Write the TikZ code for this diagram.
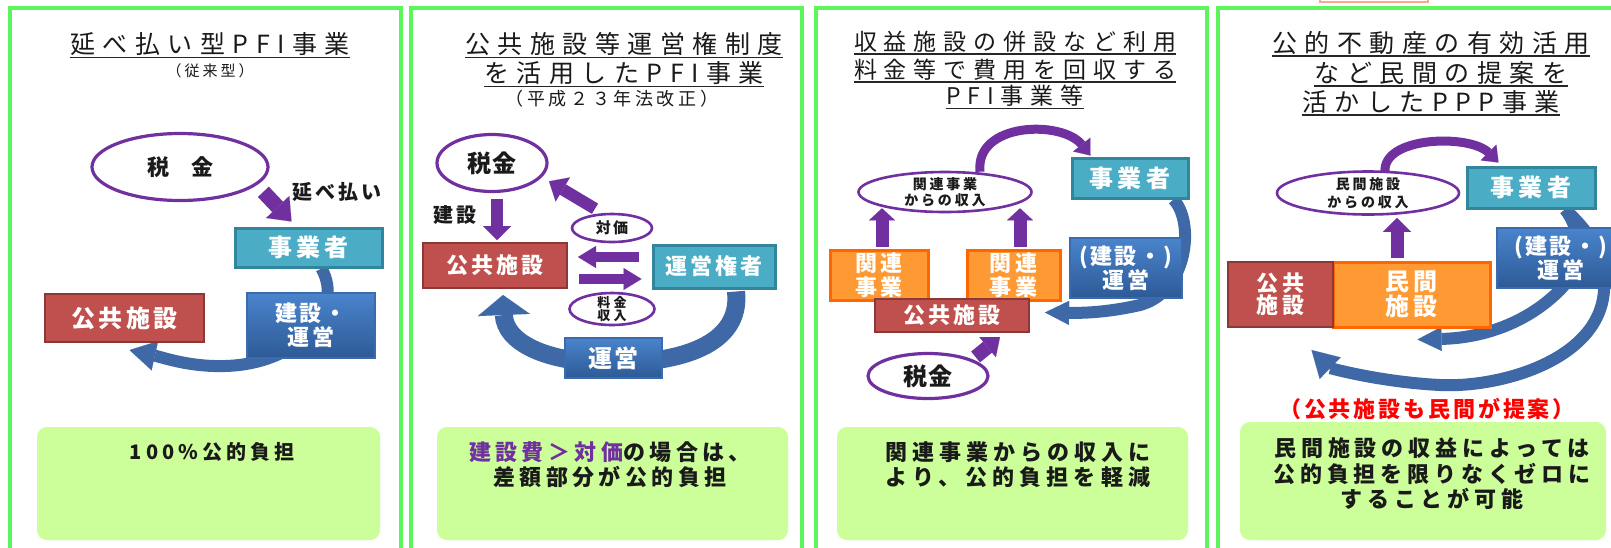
\documentclass[tikz,border=0pt]{standalone}
\usepackage{fontspec}
\setmainfont{Noto Sans CJK JP}
\usetikzlibrary{shapes.geometric,arrows.meta,calc}
\definecolor{frameG}{HTML}{5CF55C}
\definecolor{limeF}{HTML}{CCFF99}
\definecolor{purp}{HTML}{7030A0}
\definecolor{tealF}{HTML}{4BACC6}
\definecolor{tealE}{HTML}{31859C}
\definecolor{redF}{HTML}{C0504D}
\definecolor{redE}{HTML}{8C3836}
\definecolor{orgF}{HTML}{FF9933}
\definecolor{orgE}{HTML}{FF6600}
\definecolor{bluT}{HTML}{4A84CC}
\definecolor{bluB}{HTML}{2D5A96}
\definecolor{bluE}{HTML}{3A6BAE}
\definecolor{arrB}{HTML}{3E69A6}
\definecolor{pinkE}{HTML}{FFA58C}
\definecolor{inkC}{HTML}{1A1A1A}
\newcommand\jpf[3]{\bfseries\fontsize{#1}{#2}\selectfont\addfontfeature{LetterSpace=#3}}
\newcommand\jpr[3]{\fontsize{#1}{#2}\selectfont\addfontfeature{LetterSpace=#3}}
\pgfdeclarelayer{bg}
\pgfsetlayers{bg,main}
\begin{document}
\begin{tikzpicture}[x=0.5pt,y=-0.5pt,
 frame/.style={draw=frameG,line width=2pt},
 limebox/.style={fill=limeF,rounded corners=5pt},
 ttl/.style={anchor=base,inner sep=0pt,text=inkC,font=\jpr{12.5pt}{12.5pt}{30}},
 ttlS/.style={anchor=base,inner sep=0pt,text=inkC,font=\jpr{11.5pt}{11.5pt}{30}},
 uline/.style={draw=black!85,line width=0.7pt},
 txt/.style={inner sep=0pt,align=center,text=inkC},
 ell/.style={ellipse,draw=purp,line width=1.6pt,fill=white,inner sep=0pt},
 boxbase/.style={rectangle,inner sep=0pt,align=center,text=white},
 tealbox/.style={boxbase,fill=tealF,draw=tealE,line width=1.5pt},
 redbox/.style={boxbase,fill=redF,draw=redE,line width=1pt},
 orgbox/.style={boxbase,fill=orgF,draw=orgE,line width=1.5pt},
 blubox/.style={boxbase,top color=bluT,bottom color=bluB,draw=bluE,line width=0.6pt},
 purpA/.style n args={3}{draw=purp,line width=#1,-{Triangle[width=#2,length=#3,line width=0.01pt]}},
 bluA/.style n args={3}{draw=arrB,line width=#1,-{Triangle[width=#2,length=#3,line width=0.01pt]}},
]
\useasboundingbox (0,0) rectangle (1611,547);
\begin{pgfonlayer}{bg}
\fill[white] (0,0) rectangle (1611,547);
\draw[frame] (10,8) rectangle (401,600);
\draw[frame] (411,8) rectangle (802,600);
\draw[frame] (816,8) rectangle (1207,600);
\draw[frame] (1218,8) rectangle (1640,600);
\fill[limebox] (37,427) rectangle (380,540);
\fill[limebox] (437,427) rectangle (788,540);
\fill[limebox] (837,427) rectangle (1188,540);
\fill[limebox] (1240,422) rectangle (1606,540);
\draw[draw=pinkE,fill=white,line width=1pt] (1320,-20) rectangle (1428,1.5);
\end{pgfonlayer}

% ---------------- Panel 1
\node[ttl] (t1) at (210,53) {延べ払い型PFI事業};
\draw[uline] ($(t1.base west)+(0,4.5)$) -- ($(t1.base east)+(0,4.5)$);
\node[anchor=base,inner sep=0pt,text=inkC,font=\jpr{7.5pt}{7.5pt}{20}] (s1) at (210,76) {（従来型）};
\node[ell,minimum width=88pt,minimum height=33.5pt] (tax1) at (180,167) {};
\node[txt,font=\jpf{11pt}{11pt}{0}] (tax1t) at (tax1) {税　金};
\node[txt,font=\jpf{10pt}{10pt}{15}] (lb1) at (337,192) {延べ払い};
\node[tealbox,minimum width=73.5pt,minimum height=19.5pt,font=\jpf{12pt}{12pt}{17}] (biz1) at (308.5,247.5) {事業者};
\node[redbox,minimum width=79.5pt,minimum height=24pt,font=\jpf{12pt}{12pt}{15}] (pub1) at (124.5,318) {公共施設};
\node[blubox,minimum width=64pt,minimum height=32.5pt,font=\jpf{11pt}{12pt}{10}] (ops1) at (311,325.5) {建設・\\運営};
\node[txt,font=\jpf{10pt}{10pt}{20}] (g1) at (212,452) {100\%公的負担};
\draw[purpA={7.5pt}{16pt}{10pt}] ($(tax1.south east)+(20,0)$) -- ($(biz1.north west)+(58,-5)$);
\begin{pgfonlayer}{bg}
\draw[bluA={6pt}{15pt}{13pt}] ($(biz1.south)+(13,0)$) .. controls (345,310) and (300,364) .. (225,366) .. controls (190,367) and (165,358) .. ($(pub1.south)+(5,7)$);
\end{pgfonlayer}

% ---------------- Panel 2
\node[ttl] (t2a) at (624,53) {公共施設等運営権制度};
\node[ttl] (t2b) at (624,82) {を活用したPFI事業};
\draw[uline] ($(t2a.base west)+(0,4.5)$) -- ($(t2a.base east)+(0,4.5)$);
\draw[uline] ($(t2b.base west)+(0,4.5)$) -- ($(t2b.base east)+(0,4.5)$);
\node[anchor=base,inner sep=0pt,text=inkC,font=\jpr{9pt}{9pt}{20}] (s2) at (612,105) {（平成２３年法改正）};
\node[ell,minimum width=55pt,minimum height=28.5pt] (tax2) at (492,163) {};
\node[txt,font=\jpf{12pt}{12pt}{8}] (tax2t) at (tax2) {税金};
\node[txt,font=\jpf{10pt}{10pt}{15}] (lb2) at (455,215) {建設};
\node[redbox,minimum width=72pt,minimum height=22.5pt,font=\jpf{11pt}{11pt}{14}] (pub2) at (495,265.5) {公共施設};
\node[tealbox,minimum width=61pt,minimum height=21.5pt,font=\jpf{11pt}{11pt}{14}] (own2) at (714,266.5) {運営権者};
\node[ell,line width=1.3pt,minimum width=40pt,minimum height=14pt] (price2) at (612,228) {};
\node[txt,font=\jpf{7.5pt}{7.5pt}{15}] (price2t) at (price2) {対価};
\node[ell,line width=1.3pt,minimum width=42.5pt,minimum height=16pt] (fee2) at (612,309) {};
\node[txt,font=\jpf{6.5pt}{6.8pt}{25}] (fee2t) at (fee2) {料金\\収入};
\node[blubox,minimum width=48.5pt,minimum height=20pt,font=\jpf{12pt}{12pt}{11}] (op2) at (613.5,358) {運営};
\node[txt,font=\jpf{11pt}{12.5pt}{20}] (g2) at (610,464.5) {{\color{purp}建設費＞対価}の場合は、\\差額部分が公的負担};
\draw[purpA={6pt}{14pt}{7pt}] ($(tax2.south)+(5,6)$) -- ($(pub2.north)+(2,-2)$);
\draw[purpA={6pt}{14pt}{8pt}] ($(price2.north)+(-17,-4)$) -- ($(tax2.south east)+(17,-3)$);
\draw[purpA={5pt}{11pt}{9pt}] ($(own2.west)+(-13,-9.5)$) -- ($(pub2.east)+(10,-8.5)$);
\draw[purpA={5pt}{11pt}{9pt}] ($(pub2.east)+(11,13.5)$) -- ($(own2.west)+(-10,12.5)$);
\begin{pgfonlayer}{bg}
\draw[bluA={9pt}{26pt}{10pt}] ($(own2.south)+(22,2)$) .. controls (742,345) and (680,363) .. (613,363) .. controls (545,363) and (505,342) .. ($(pub2.south)+(8,6)$);
\end{pgfonlayer}

% ---------------- Panel 3
\node[ttlS] (t3a) at (1015,50) {収益施設の併設など利用};
\node[ttlS] (t3b) at (1015,78) {料金等で費用を回収する};
\node[ttlS] (t3c) at (1015,104.5) {PFI事業等};
\draw[uline] ($(t3a.base west)+(0,4)$) -- ($(t3a.base east)+(0,4)$);
\draw[uline] ($(t3b.base west)+(0,4)$) -- ($(t3b.base east)+(0,4)$);
\draw[uline] ($(t3c.base west)+(0,4)$) -- ($(t3c.base east)+(0,4)$);
\node[tealbox,minimum width=58pt,minimum height=20pt,font=\jpf{12pt}{12pt}{17}] (biz3) at (1130,178) {事業者};
\node[ell,line width=1.3pt,minimum width=86.5pt,minimum height=20pt] (inc3) at (945,192) {};
\node[txt,font=\jpf{7pt}{8.3pt}{20}] (inc3t) at (inc3) {関連事業\\からの収入};
\node[orgbox,minimum width=49pt,minimum height=25pt,font=\jpf{11pt}{12pt}{14}] (rel3a) at (879,275) {関連\\事業};
\node[orgbox,minimum width=46.5pt,minimum height=25pt,font=\jpf{11pt}{12pt}{14}] (rel3b) at (1013.5,275) {関連\\事業};
\node[blubox,minimum width=56pt,minimum height=30pt,font=\jpf{11pt}{12pt}{10}] (ops3) at (1126,268) {(建設・)\\運営};
\node[redbox,minimum width=77pt,minimum height=16.5pt,font=\jpf{11pt}{11pt}{14}] (pub3) at (952,315.5) {公共施設};
\node[ell,minimum width=60pt,minimum height=22.5pt] (tax3) at (928,376) {};
\node[txt,font=\jpf{12pt}{12pt}{8}] (tax3t) at (tax3) {税金};
\node[txt,font=\jpf{11pt}{12.5pt}{23}] (g3) at (1018,464.5) {関連事業からの収入に\\より、公的負担を軽減};
\draw[purpA={4.5pt}{11pt}{7pt}] ($(inc3.north)+(35,1)$) .. controls (975,122) and (1062,120) .. ($(biz3.north west)+(20,-1)$);
\draw[purpA={6.5pt}{13pt}{6pt}] ($(rel3a.north)+(3,-2)$) -- ($(inc3.south)+(-63,-5)$);
\draw[purpA={6.5pt}{13pt}{6pt}] ($(rel3b.north)+(6.5,-2)$) -- ($(inc3.south)+(75,-5)$);
\draw[purpA={7pt}{13pt}{8pt}] ($(tax3.north east)+(4,-2)$) -- ($(pub3.south)+(48,4)$);
\begin{pgfonlayer}{bg}
\draw[bluA={6pt}{12pt}{12pt}] ($(biz3.south east)+(-16,0)$) .. controls (1195,222) and (1188,292) .. (1140,305) .. controls (1105,313) and (1080,313) .. ($(pub3.east)+(15,-3)$);
\end{pgfonlayer}

% ---------------- Panel 4
\node[ttl] (t4a) at (1431,52) {公的不動産の有効活用};
\node[ttl] (t4b) at (1441,82) {など民間の提案を};
\node[ttl] (t4c) at (1431,111) {活かしたPPP事業};
\draw[uline] ($(t4a.base west)+(0,4)$) -- ($(t4a.base east)+(0,4)$);
\draw[uline] ($(t4b.base west)+(0,4)$) -- ($(t4b.base east)+(0,4)$);
\draw[uline] ($(t4c.base west)+(0,4)$) -- ($(t4c.base east)+(0,4)$);
\node[tealbox,minimum width=64pt,minimum height=20.5pt,font=\jpf{12pt}{12pt}{17}] (biz4) at (1531,187.5) {事業者};
\node[ell,line width=1.3pt,minimum width=91pt,minimum height=21.5pt] (inc4) at (1368,193) {};
\node[txt,font=\jpf{7pt}{9pt}{20}] (inc4t) at (inc4) {民間施設\\からの収入};
\node[orgbox,minimum width=78.5pt,minimum height=32.5pt,font=\jpf{12pt}{11pt}{15}] (priv4) at (1411.5,294.5) {民間\\施設};
\node[redbox,minimum width=52.5pt,minimum height=32.5pt,font=\jpf{11pt}{11pt}{14}] (pub4) at (1280.5,294.5) {公共\\施設};
\node[blubox,minimum width=64pt,minimum height=30pt,font=\jpf{11pt}{12pt}{10}] (ops4) at (1561,258) {(建設・)\\運営};
\node[txt,text=red,font=\jpf{11pt}{11pt}{13}] (note4) at (1427,409) {（公共施設も民間が提案）};
\node[txt,font=\jpf{11pt}{12.75pt}{22}] (g4) at (1432,474) {民間施設の収益によっては\\公的負担を限りなくゼロに\\することが可能};
\draw[purpA={4.5pt}{11pt}{7pt}] ($(inc4.north)+(17,2)$) .. controls (1382,136) and (1470,134) .. ($(biz4.north west)+(33,-3)$);
\draw[purpA={6.5pt}{14pt}{7pt}] ($(priv4.north)+(-14.5,-3)$) -- ($(inc4.south)+(29,2)$);
\begin{pgfonlayer}{bg}
\draw[bluA={6pt}{12pt}{12pt}] ($(biz4.south)+(34,0)$) .. controls (1585,235) and (1580,270) .. (1560,290) .. controls (1525,325) and (1480,338) .. ($(priv4.south)+(6,11)$);
\draw[bluA={6pt}{15pt}{13pt}] ($(biz4.south)+(34,0)$) .. controls (1600,240) and (1606,270) .. (1604,290) .. controls (1600,360) and (1500,388) .. (1440,385) .. controls (1380,382) and (1330,368) .. ($(pub4.south)+(31,22)$);
\end{pgfonlayer}
\end{tikzpicture}
\end{document}
